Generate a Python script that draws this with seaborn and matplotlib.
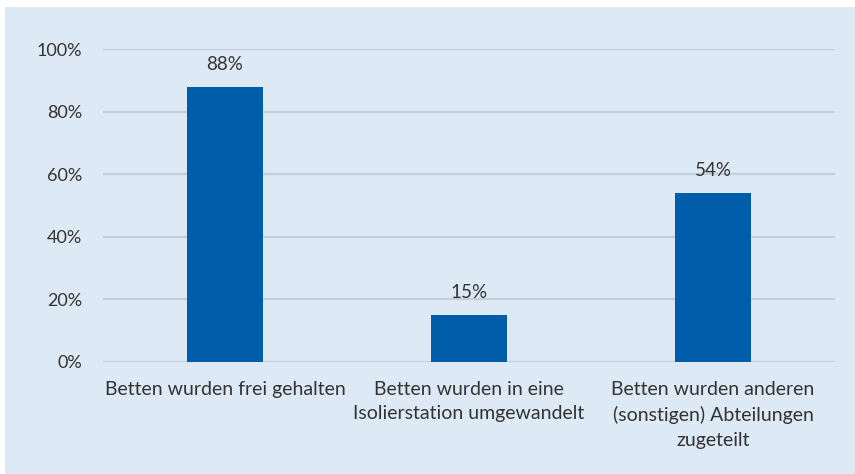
import matplotlib
matplotlib.use("Agg")
import matplotlib.pyplot as plt
import seaborn as sns
import pandas as pd
from matplotlib.patches import Rectangle

categories = [
    "Betten wurden frei gehalten",
    "Betten wurden in eine\nIsolierstation umgewandelt",
    "Betten wurden anderen\n(sonstigen) Abteilungen\nzugeteilt",
]
values = [88, 15, 54]
yticks = [0, 20, 40, 60, 80, 100]
ytick_labels = ["0%", "20%", "40%", "60%", "80%", "100%"]

bg = "#DDEAF6"
bar_color = "#005DAA"
text_color = "#333333"

sns.set_theme(style="white")
plt.rcParams["font.family"] = ["Lato", "DejaVu Sans"]

fig = plt.figure(figsize=(8.55, 4.74), dpi=100)
fig.patch.set_facecolor("white")
fig.patches.append(Rectangle((5 / 855, 0), 1, 1 - 7 / 474, transform=fig.transFigure,
                             facecolor=bg, edgecolor="none", zorder=-10))

ax = fig.add_axes([103 / 855, 1 - 362 / 474, (835 - 103) / 855, (362 - 49) / 474])
ax.set_facecolor("none")

df = pd.DataFrame({"Kategorie": categories, "Anteil": values})
sns.barplot(data=df, x="Kategorie", y="Anteil", color=bar_color, saturation=1,
            width=0.315, linewidth=0, ax=ax, zorder=3)

ax.set_ylim(0, 100)
ax.set_xlim(-0.5, 2.5)
ax.set_yticks(yticks)
ax.set_yticklabels(ytick_labels)
ax.yaxis.grid(True, color="#C3CFDB", linewidth=1.6, zorder=0)
ax.set_axisbelow(True)
for s in ax.spines.values():
    s.set_visible(False)
ax.set_xlabel("")
ax.set_ylabel("")
ax.tick_params(axis="y", length=0, pad=15, labelsize=13, labelcolor=text_color)
ax.tick_params(axis="x", length=0, pad=13.5, labelsize=14, labelcolor=text_color)
for lbl in ax.get_xticklabels():
    lbl.set_linespacing(1.55)
    lbl.set_verticalalignment("top")

for container in ax.containers:
    ax.bar_label(container, labels=[f"{v}%" for v in values], padding=10,
                 fontsize=13.5, color=text_color)

fig.savefig("out.png", dpi=100, facecolor="white")
